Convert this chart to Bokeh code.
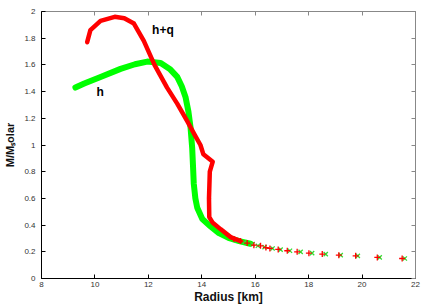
from bokeh.plotting import figure
from bokeh.models import (LinearAxis, FixedTicker, NumeralTickFormatter,
                          Range1d, ColumnDataSource)
from bokeh.core.properties import value
from bokeh.embed import file_html
from bokeh.resources import INLINE

# ---- data ----
x_ticks = [8, 10, 12, 14, 16, 18, 20, 22]
y_ticks = [0, 0.2, 0.4, 0.6, 0.8, 1, 1.2, 1.4, 1.6, 1.8, 2]

# h+q branch (red), continuous part
hq_R = [9.71, 9.83, 10.21, 10.74, 11.1, 11.46, 11.83, 12.23, 12.7, 13.08, 13.45,
        13.75, 13.95, 14.06, 14.41, 14.3, 14.27, 14.28, 14.4, 14.7, 15.08, 15.45]
hq_M = [1.77, 1.86, 1.93, 1.96, 1.95, 1.91, 1.78, 1.6, 1.43, 1.31, 1.18,
        1.07, 1.0, 0.93, 0.875, 0.8, 0.6, 0.46, 0.42, 0.37, 0.31, 0.28]
# h+q tail points (red +)
hq_tail_R = [15.2, 15.45, 15.7, 15.95, 16.2, 16.4, 16.55, 16.86, 17.2, 17.57,
             18.01, 18.51, 19.13, 19.76, 20.57, 21.5]
hq_tail_M = [0.295, 0.28, 0.265, 0.25, 0.245, 0.232, 0.225, 0.218, 0.208, 0.2,
             0.19, 0.183, 0.175, 0.17, 0.158, 0.15]

# h branch (green), continuous part
h_R = [9.27, 9.6, 10.21, 10.96, 11.5, 11.96, 12.46, 12.8, 13.08, 13.25, 13.39,
       13.5, 13.58, 13.64, 13.67, 13.7, 13.76, 13.83, 14.02, 14.33, 14.64, 15.0,
       15.4, 15.82]
h_M = [1.43, 1.46, 1.51, 1.57, 1.605, 1.625, 1.615, 1.57, 1.51, 1.44, 1.36,
       1.25, 1.13, 0.98, 0.85, 0.71, 0.6, 0.53, 0.445, 0.39, 0.34, 0.305,
       0.28, 0.26]
# h tail points (green x)
h_tail_R = [15.3, 15.6, 15.9, 16.1, 16.35, 16.65, 16.95, 17.3, 17.7,
            18.13, 18.64, 19.2, 19.84, 20.66, 21.6]
h_tail_M = [0.285, 0.27, 0.258, 0.245, 0.235, 0.225, 0.216, 0.208, 0.2,
            0.19, 0.183, 0.175, 0.17, 0.158, 0.15]

label_x = [12.14, 10.06]
label_y = [1.86, 1.40]
label_txt = ["h+q", "h"]

x_title = "Radius [km]"
y_title = "M/M\u209bolar"

# ---- figure ----
p = figure(width=436, height=306, output_backend="svg",
           toolbar_location=None,
           x_range=Range1d(8, 22), y_range=Range1d(0, 2),
           min_border_left=41, min_border_right=21, min_border_top=11,
           min_border_bottom=28, x_axis_location=None, y_axis_location=None)
p.xgrid.visible = False
p.ygrid.visible = False
p.outline_line_color = "#888888"
p.outline_line_width = 1
p.background_fill_color = "white"
p.border_fill_color = "white"

def style(ax, show_labels, color):
    ax.axis_line_color = color
    ax.major_tick_line_color = color
    ax.major_tick_in = 4
    ax.major_tick_out = 0
    ax.minor_tick_line_color = None
    ax.major_label_text_font = "Liberation Sans"
    ax.major_label_text_font_size = "8px"
    ax.major_label_text_color = "#333333"
    ax.major_label_standoff = 3
    ax.axis_label_standoff = 0
    ax.axis_label_text_font = "Liberation Sans"
    ax.axis_label_text_font_style = "bold"
    ax.axis_label_text_font_size = "12px"
    ax.axis_label_text_color = "#111111"
    if not show_labels:
        ax.major_label_text_alpha = 0
        ax.major_label_text_font_size = "1px"
        ax.major_label_standoff = 0

xb = LinearAxis(ticker=FixedTicker(ticks=x_ticks), axis_label=x_title)
style(xb, True, "#000000")
p.add_layout(xb, "below")
xt = LinearAxis(ticker=FixedTicker(ticks=x_ticks))
style(xt, False, "#888888")
p.add_layout(xt, "above")

yl = LinearAxis(ticker=FixedTicker(ticks=y_ticks),
                formatter=NumeralTickFormatter(format="0.[0]"),
                axis_label=y_title)
style(yl, True, "#000000")
yl.major_label_standoff = 6
yl.axis_label_standoff = 5
yl.axis_label_text_font_size = "11px"
p.add_layout(yl, "left")
yr = LinearAxis(ticker=FixedTicker(ticks=y_ticks))
style(yr, False, "#888888")
p.add_layout(yr, "right")

# curves
p.line(h_R, h_M, line_color="#00ff00", line_width=6, line_cap="round",
       line_join="round")
p.scatter(h_tail_R, h_tail_M, marker="x", size=6, line_color="#33dd33",
          line_width=1.3)
p.line(hq_R, hq_M, line_color="#ff0000", line_width=4.5, line_cap="round",
       line_join="round")
p.scatter(hq_tail_R, hq_tail_M, marker="cross", size=6, line_color="#ff0000",
          line_width=1.3)

src = ColumnDataSource(dict(x=label_x, y=label_y, t=label_txt))
p.text("x", "y", text="t", source=src, text_font=value("Liberation Sans"),
       text_font_style="bold", text_font_size="12px", text_color="#000000",
       text_baseline="middle", text_align="left")

open("out.html", "w").write(file_html(p, INLINE))
